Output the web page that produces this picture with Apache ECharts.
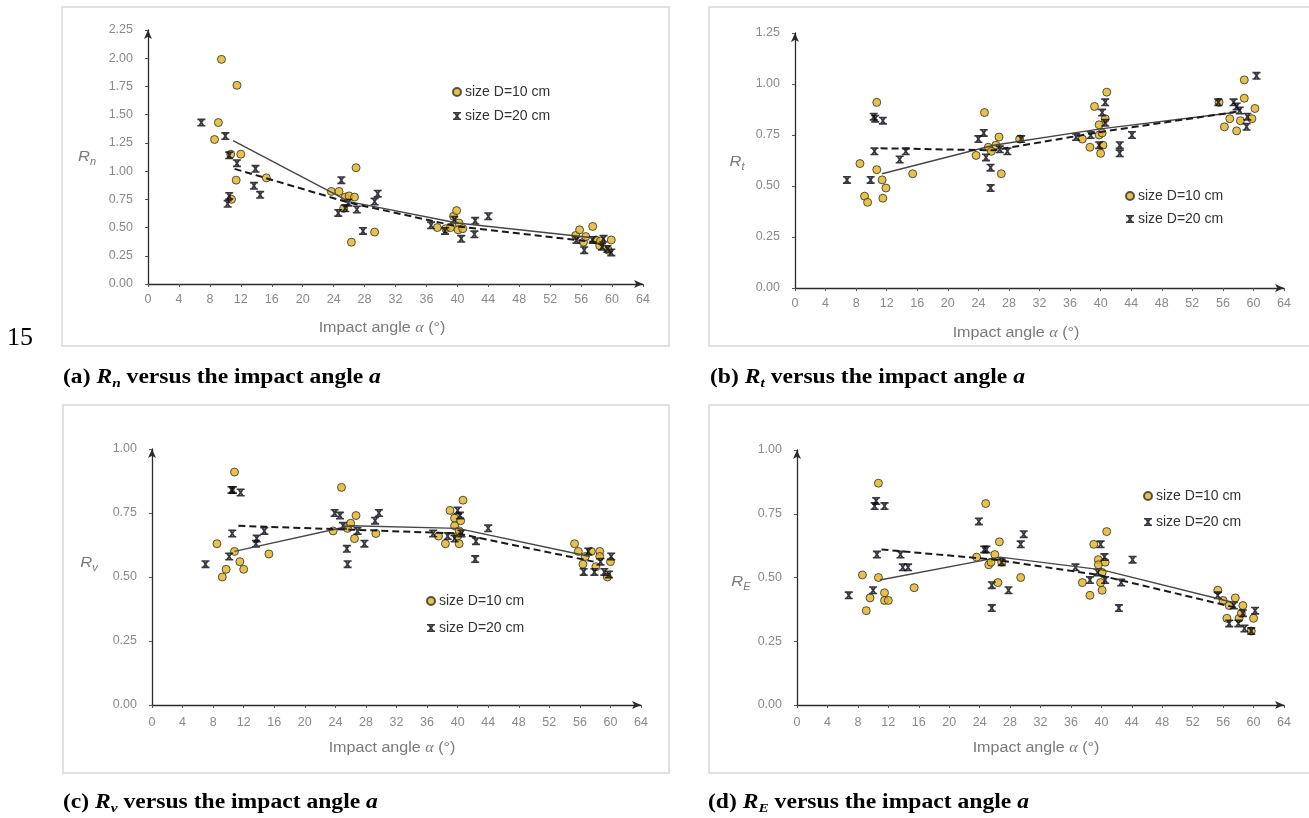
<!DOCTYPE html>
<html>
<head>
<meta charset="utf-8">
<script src="https://cdn.jsdelivr.net/npm/echarts@6/dist/echarts.min.js"></script>
<style>
  html, body { margin: 0; padding: 0; background: #ffffff; }
  #chart { width: 1309px; height: 818px; }
</style>
</head>
<body>
<div id="chart"></div>
<script>
// ---- Measured restitution coefficients versus impact angle α (degrees) ----
// Each point is [impact angle, coefficient]; D10 = 10 cm blocks, D20 = 20 cm blocks.

// (a) normal coefficient Rn
const rnD10 = [[9.5,1.99],[11.5,1.76],[9.1,1.43],[8.6,1.28],[10.7,1.15],[12.0,1.15],[11.4,0.92],[10.8,0.75],[15.3,0.94],
  [23.7,0.82],[24.7,0.82],[26.9,1.03],[25.5,0.77],[26.0,0.78],[26.7,0.77],[25.3,0.67],[26.3,0.37],[29.3,0.46],
  [37.4,0.50],[38.5,0.49],[39.1,0.50],[39.5,0.60],[39.9,0.65],[40.2,0.54],[40.1,0.48],[40.7,0.49],
  [55.3,0.43],[55.8,0.48],[56.3,0.37],[56.6,0.42],[57.5,0.51],[57.9,0.39],[58.4,0.34],[58.5,0.38],[59.5,0.30],[59.9,0.39]];
const rnD20 = [[6.9,1.43],[10.0,1.31],[10.5,1.14],[11.5,1.07],[13.9,1.02],[13.7,0.87],[14.5,0.79],[10.5,0.78],[10.3,0.71],
  [25.0,0.92],[24.6,0.63],[25.5,0.67],[25.9,0.72],[27.0,0.66],[27.8,0.47],[29.3,0.73],[29.7,0.80],
  [36.6,0.52],[38.4,0.47],[39.6,0.57],[40.5,0.40],[42.3,0.56],[42.2,0.44],[44.0,0.60],
  [55.4,0.39],[56.4,0.30],[57.5,0.39],[58.9,0.40],[58.7,0.33],[59.9,0.28],[59.4,0.31]];
const rnMeanD10 = [[11.0,1.27],[26.0,0.73],[40.0,0.54],[57.5,0.41]];
const rnMeanD20 = [[11.2,1.02],[26.0,0.72],[40.0,0.51],[58.0,0.37]];

// (b) tangential coefficient Rt
const rtD10 = [[10.7,0.91],[8.5,0.61],[9.1,0.45],[9.5,0.42],[10.7,0.58],[11.4,0.53],[11.9,0.49],[11.5,0.44],[15.4,0.56],
  [23.7,0.65],[24.8,0.86],[25.3,0.69],[25.7,0.67],[26.3,0.70],[26.7,0.74],[27.0,0.56],[29.4,0.73],
  [37.6,0.73],[38.6,0.69],[39.2,0.89],[39.8,0.80],[39.8,0.75],[40.0,0.66],[40.3,0.70],[40.2,0.76],[40.6,0.83],[40.8,0.96],
  [55.5,0.91],[56.2,0.79],[56.9,0.83],[57.8,0.77],[58.3,0.82],[58.8,0.93],[58.8,1.02],[59.8,0.83],[60.2,0.88]];
const rtD20 = [[6.8,0.53],[9.9,0.53],[10.3,0.84],[10.5,0.83],[11.5,0.82],[10.4,0.67],[13.7,0.63],[14.5,0.67],
  [24.0,0.73],[24.7,0.76],[25.0,0.64],[25.6,0.59],[25.6,0.49],[26.8,0.68],[27.8,0.67],[29.6,0.73],
  [36.8,0.74],[38.7,0.75],[39.8,0.70],[40.2,0.86],[40.6,0.91],[40.6,0.81],[42.5,0.70],[42.5,0.66],[44.1,0.75],
  [55.4,0.91],[57.4,0.91],[57.8,0.89],[58.2,0.87],[59.1,0.79],[59.2,0.84],[60.4,1.04]];
const rtMeanD10 = [[11.4,0.56],[26.0,0.70],[40.0,0.78],[57.5,0.86]];
const rtMeanD20 = [[11.2,0.685],[26.0,0.675],[40.0,0.765],[58.0,0.865]];

// (c) velocity coefficient Rv
const rvD10 = [[10.8,0.91],[8.5,0.63],[9.2,0.50],[9.7,0.53],[10.8,0.60],[11.5,0.56],[12.0,0.53],[15.3,0.59],
  [23.7,0.68],[24.8,0.85],[25.6,0.69],[26.0,0.71],[26.5,0.65],[26.7,0.74],[29.3,0.67],
  [37.5,0.66],[38.4,0.63],[39.0,0.76],[39.6,0.73],[39.6,0.70],[40.0,0.66],[40.2,0.63],[40.2,0.68],[40.4,0.72],[40.7,0.80],
  [55.3,0.63],[55.8,0.60],[56.4,0.55],[56.7,0.58],[57.5,0.60],[58.1,0.54],[58.6,0.60],[58.6,0.58],[59.6,0.50],[60.0,0.56]];
const rvD20 = [[7.0,0.55],[10.1,0.58],[10.5,0.67],[10.4,0.84],[10.6,0.84],[11.6,0.83],[13.6,0.63],[13.7,0.65],[14.7,0.68],
  [23.9,0.75],[24.6,0.74],[25.0,0.70],[25.5,0.61],[25.6,0.55],[26.9,0.68],[27.8,0.63],[29.2,0.72],[29.7,0.75],
  [36.8,0.67],[38.7,0.66],[39.6,0.65],[40.0,0.76],[40.3,0.74],[40.5,0.67],[42.3,0.57],[42.4,0.64],[44.0,0.69],
  [56.5,0.52],[57.1,0.60],[57.9,0.52],[58.7,0.56],[59.2,0.52],[59.8,0.51],[60.1,0.58]];
const rvMeanD10 = [[10.8,0.60],[26.0,0.70],[40.0,0.69],[57.3,0.58]];
const rvMeanD20 = [[11.3,0.70],[26.0,0.685],[40.0,0.67],[57.8,0.56]];

// (d) energy coefficient RE
const reD10 = [[10.7,0.87],[8.6,0.51],[9.1,0.37],[9.6,0.42],[10.7,0.50],[11.5,0.44],[11.5,0.41],[12.0,0.41],[15.4,0.46],
  [23.6,0.58],[24.8,0.79],[25.2,0.55],[25.5,0.56],[26.0,0.59],[26.4,0.48],[26.6,0.64],[26.9,0.56],[29.4,0.50],
  [37.5,0.48],[38.5,0.43],[39.0,0.63],[39.6,0.57],[39.6,0.55],[39.9,0.48],[40.1,0.45],[40.1,0.52],[40.5,0.56],[40.7,0.68],
  [55.3,0.45],[56.0,0.41],[56.5,0.34],[56.8,0.39],[57.6,0.42],[58.1,0.34],[58.6,0.39],[58.4,0.36],[59.7,0.29],[60.0,0.34]];
const reD20 = [[6.8,0.43],[10.0,0.45],[10.5,0.59],[10.2,0.78],[10.4,0.80],[11.5,0.78],[13.6,0.59],[13.9,0.54],[14.6,0.54],
  [23.9,0.72],[24.6,0.61],[24.9,0.61],[25.6,0.47],[25.6,0.38],[26.9,0.56],[27.8,0.45],[29.4,0.63],[29.8,0.67],
  [36.6,0.54],[38.5,0.49],[39.5,0.52],[39.9,0.63],[40.4,0.58],[40.5,0.49],[42.3,0.38],[42.6,0.48],[44.1,0.57],
  [55.3,0.43],[56.8,0.32],[57.4,0.39],[58.0,0.32],[58.6,0.36],[58.8,0.30],[59.7,0.29],[60.2,0.37]];
const reMeanD10 = [[10.9,0.49],[26.7,0.58],[40.1,0.53],[57.6,0.40]];
const reMeanD20 = [[11.1,0.61],[26.0,0.57],[39.6,0.51],[57.9,0.38]];

// axis ranges
const angleMax = 64, angleStep = 4;
const yMax = [2.25, 1.25, 1.0, 1.0];
const yStep = 0.25;

// text
const seriesNames = ['size D=10 cm', 'size D=20 cm'];
const xTitle = 'Impact angle ';
const ySymbols = [['R', 'n'], ['R', 't'], ['R', 'v'], ['R', 'E']];
const captionTags = ['(a) ', '(b) ', '(c) ', '(d) '];
const pageNumber = '15';

// ---- layout of the four panels ----
const panels = [
  { grid: { left: 148, top: 30,  width: 495, height: 254 }, frame: [62, 7, 607, 339],  title: [382, 328],  yname: [87, 157],  legend: [452, 84, 8],    caption: [63, 378] },
  { grid: { left: 795, top: 33,  width: 489, height: 255 }, frame: [709, 7, 700, 339], title: [1016, 333], yname: [737, 162], legend: [1125, 188, 7],  caption: [710, 378] },
  { grid: { left: 152, top: 449, width: 489, height: 256 }, frame: [63, 405, 606, 368],  title: [392, 748],  yname: [89, 563],  legend: [426, 593, 11],  caption: [63, 803] },
  { grid: { left: 797, top: 450, width: 487, height: 255 }, frame: [709, 405, 700, 368], title: [1036, 748], yname: [741, 582], legend: [1143, 488, 10], caption: [708, 803] }
];

// hourglass-style cross used for the 20 cm blocks
const crossPath = 'path://M0,0H10V2H0Z M0,8H10V10H0Z M0.3,0H3.1L9.7,10H6.9Z M6.9,0H9.7L3.1,10H0.3Z';
const sans = 'Liberation Sans, Arial, sans-serif';
const serif = 'Liberation Serif, Times New Roman, serif';
const tickGray = '#8a8a8a';
const titleGray = '#7a7a7a';

const pointSets = [
  [rnD10, rnD20, rnMeanD10, rnMeanD20],
  [rtD10, rtD20, rtMeanD10, rtMeanD20],
  [rvD10, rvD20, rvMeanD10, rvMeanD20],
  [reD10, reD20, reMeanD10, reMeanD20]
];

const grids = [], xAxes = [], yAxes = [], series = [], legends = [], graphics = [];

panels.forEach((p, i) => {
  grids.push(Object.assign({ outerBoundsMode: 'none', containLabel: false }, p.grid));

  xAxes.push({
    type: 'value', gridIndex: i, min: 0, max: angleMax, interval: angleStep,
    splitLine: { show: false },
    axisLine: { show: true, onZero: false, symbol: ['none', 'arrow'], symbolSize: [6, 9],
      lineStyle: { color: '#2b2b2b', width: 1.3 } },
    axisTick: { show: true, length: 3, lineStyle: { color: '#555', width: 1 } },
    axisLabel: { color: tickGray, fontSize: 12.5, fontFamily: sans, margin: i < 2 ? 9 : 11 }
  });

  yAxes.push({
    type: 'value', gridIndex: i, min: 0, max: yMax[i], interval: yStep,
    splitLine: { show: false },
    axisLine: { show: true, onZero: false, symbol: ['none', 'arrow'], symbolSize: [6, 9],
      lineStyle: { color: '#2b2b2b', width: 1.3 } },
    axisTick: { show: true, length: 3, lineStyle: { color: '#555', width: 1 } },
    axisLabel: { color: tickGray, fontSize: 12.5, fontFamily: sans, margin: 15,
      formatter: v => v.toFixed(2) }
  });

  const [d10, d20, m10, m20] = pointSets[i];

  series.push({
    type: 'scatter', name: seriesNames[0], xAxisIndex: i, yAxisIndex: i, data: d10,
    symbol: 'circle', symbolSize: 8,
    itemStyle: { color: '#e2b21e', borderColor: '#2e2e2e', borderWidth: 1 }, z: 3
  });
  series.push({
    type: 'scatter', name: seriesNames[1], xAxisIndex: i, yAxisIndex: i, data: d20,
    symbol: crossPath, symbolSize: [8, 8],
    itemStyle: { color: '#05050f' }, z: 4
  });
  series.push({
    type: 'line', name: 'mean D=10 cm', xAxisIndex: i, yAxisIndex: i, data: m10,
    symbol: 'none', silent: true,
    lineStyle: { color: '#474747', width: 1.4 }, z: 5
  });
  series.push({
    type: 'line', name: 'mean D=20 cm', xAxisIndex: i, yAxisIndex: i, data: m20,
    symbol: 'none', silent: true,
    lineStyle: { color: '#1a1a1a', width: 2, type: [7, 4] }, z: 5
  });

  legends.push({
    data: seriesNames, orient: 'vertical', left: p.legend[0], top: p.legend[1],
    itemGap: p.legend[2], itemWidth: 8, itemHeight: 8, padding: 0, selectedMode: false,
    textStyle: { color: '#333333', fontSize: 14, fontFamily: sans, lineHeight: 16, padding: [0, 0, 0, -1] }
  });

  // panel frame
  graphics.push({
    type: 'rect', silent: true, z: -1,
    shape: { x: p.frame[0], y: p.frame[1], width: p.frame[2], height: p.frame[3] },
    style: { fill: 'none', stroke: '#d8d8d8', lineWidth: 1.5 }
  });

  // x-axis title
  graphics.push({
    type: 'text', x: p.title[0], y: p.title[1], scaleX: 1.15, silent: true,
    style: {
      text: '{t|' + xTitle + '}{i|α}{t| (°)}',
      align: 'center', verticalAlign: 'middle',
      rich: {
        t: { fontSize: 14, fontFamily: sans, fill: titleGray },
        i: { fontSize: 14, fontFamily: serif, fontStyle: 'italic', fill: titleGray }
      }
    }
  });

  // y-axis symbol
  graphics.push({
    type: 'text', x: p.yname[0], y: p.yname[1], scaleX: 1.1, silent: true,
    style: {
      text: '{r|' + ySymbols[i][0] + '}{s|' + ySymbols[i][1] + '}',
      align: 'center', verticalAlign: 'middle',
      rich: {
        r: { fontSize: 15, fontFamily: sans, fontStyle: 'italic', fill: titleGray, lineHeight: 20 },
        s: { fontSize: 10, fontFamily: sans, fontStyle: 'italic', fill: titleGray, lineHeight: 11, verticalAlign: 'bottom' }
      }
    }
  });

  // caption under the panel
  graphics.push({
    type: 'text', x: p.caption[0], y: p.caption[1], scaleX: 1.18, silent: true,
    style: {
      text: '{b|' + captionTags[i] + '}{bi|' + ySymbols[i][0] + '}{sub|' + ySymbols[i][1] + '}{b| versus the impact angle }{bi|a}',
      align: 'left', verticalAlign: 'middle',
      rich: {
        b: { fontSize: 20, fontFamily: serif, fontWeight: 'bold', fill: '#000', lineHeight: 24 },
        bi: { fontSize: 20, fontFamily: serif, fontWeight: 'bold', fontStyle: 'italic', fill: '#000', lineHeight: 24 },
        sub: { fontSize: 13, fontFamily: serif, fontWeight: 'bold', fontStyle: 'italic', fill: '#000', lineHeight: 13, verticalAlign: 'bottom' }
      }
    }
  });
});

// page number at the left margin
graphics.push({
  type: 'text', x: 7, y: 338, silent: true,
  style: { text: pageNumber, fontSize: 26, fontFamily: serif, fill: '#000', align: 'left', verticalAlign: 'middle' }
});

const chart = echarts.init(document.getElementById('chart'), null, { renderer: 'canvas' });
chart.setOption({
  animation: false,
  backgroundColor: '#ffffff',
  grid: grids,
  xAxis: xAxes,
  yAxis: yAxes,
  legend: legends,
  series: series,
  graphic: graphics
});
</script>
</body>
</html>
